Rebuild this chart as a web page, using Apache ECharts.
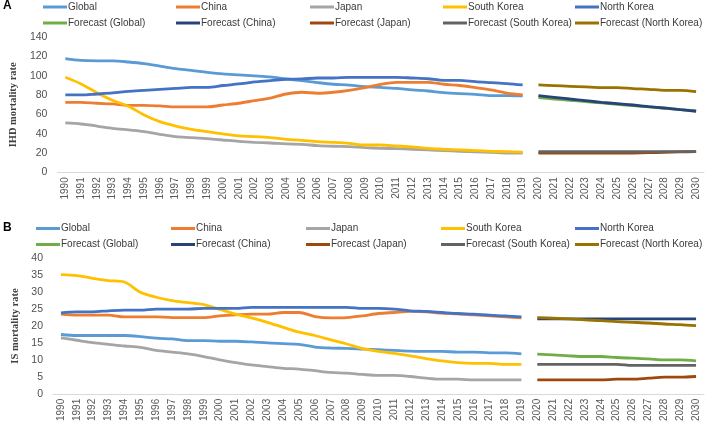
<!DOCTYPE html>
<html><head><meta charset="utf-8">
<script src="https://cdn.jsdelivr.net/npm/echarts@6/dist/echarts.min.js"></script>
<style>html,body{margin:0;padding:0;background:#fff}#c{width:708px;height:424px}</style>
</head><body><div id="c"></div>
<script>
const years = ['1990','1991','1992','1993','1994','1995','1996','1997','1998','1999','2000','2001','2002','2003','2004','2005','2006','2007','2008','2009','2010','2011','2012','2013','2014','2015','2016','2017','2018','2019','2020','2021','2022','2023','2024','2025','2026','2027','2028','2029','2030'];

const histNames = ['Global','China','Japan','South Korea','North Korea'];
const fcNames = ['Forecast (Global)','Forecast (China)','Forecast (Japan)','Forecast (South Korea)','Forecast (North Korea)'];

// Panel A: IHD mortality rate, 1990-2019
const ihdGlobal = [117.9,116,115.5,115.5,114.4,112.7,110,107.5,105.8,103.7,102,101,100,98.9,96.8,95,93,91.3,90.4,88.8,88,87,85.4,84.3,82.6,81.6,80.9,79.5,79.5,79.2];
const ihdChina = [72.6,72.6,71.6,70.9,69.5,69.5,68.8,67.8,67.8,67.8,69.8,71.6,74.3,77,81.2,83,82,83,85,87.8,91.3,93.3,93.3,93.3,91.3,90,87.8,85.4,82,80.2];
const ihdJapan = [51.2,50.1,48,45.6,43.9,42.2,39.4,37,36,34.9,33.5,32.1,31.1,30.4,29.4,29,27.7,27,26.6,25.6,24.9,24.5,23.9,23.2,22.5,21.8,21.1,20.7,20,20];
const ihdSKorea = [98.5,91.6,82.6,74.7,68.4,59.5,52.5,48,44.6,42.2,39.8,37.7,37,36,34.2,33.2,31.8,31.1,30.1,28.3,28.3,27.3,26.3,24.9,23.9,23.2,22.5,21.8,21.4,21];
const ihdNKorea = [80.2,80.2,81.2,82.3,84,85,86,87,88,88,90,91.6,93.7,95,96.5,96.8,97.8,97.8,98.5,98.5,98.5,98.5,97.8,97,95.4,95.4,94,93,92,90.6];
// Panel A forecasts, 2020-2030
const ihdFcGlobal = [77.4,76,74.7,73.3,71.9,70.5,69.1,67.8,66.4,65,63.6];
const ihdFcChina = [79.5,77.8,76,74.3,72.6,71.2,69.8,68.1,66.7,65,63.3];
const ihdFcJapan = [19.8,19.8,19.8,19.8,19.8,19.8,19.9,20.3,20.8,21.2,21.4];
const ihdFcSKorea = [21.5,21.5,21.5,21.5,21.5,21.5,21.5,21.5,21.5,21.5,21.5];
const ihdFcNKorea = [90.6,89.9,89.2,88.5,87.8,87.8,86.8,86.1,85,85,83.7];

// Panel B: IS mortality rate, 1990-2019
const isGlobal = [17.5,17.2,17.2,17.2,17.2,16.9,16.4,16.2,15.7,15.7,15.5,15.5,15.3,15,14.8,14.6,13.8,13.5,13.4,13.2,13,12.8,12.6,12.5,12.5,12.3,12.3,12.1,12.1,11.8];
const isChina = [23.5,23.2,23.2,23.2,22.7,22.7,22.7,22.5,22.5,22.5,23,23.3,23.5,23.5,24,24,22.8,22.4,22.5,23,23.7,24,24.3,24.2,23.8,23.6,23.3,23,22.7,22.4];
const isJapan = [16.5,15.8,15.1,14.6,14.1,13.7,12.8,12.3,11.8,11,10,9.2,8.5,8,7.5,7.3,6.8,6.3,6.1,5.7,5.4,5.4,5.1,4.6,4.3,4.3,4.1,4.1,4.1,4.1];
const isSKorea = [35.2,34.9,34.1,33.4,33,30,28.5,27.5,26.9,26.3,24.9,23.5,22.4,21.1,19.6,18.2,17.2,15.9,14.7,13.3,12.5,11.9,11.2,10.4,9.7,9.2,9,9,8.7,8.7];
const isNKorea = [23.9,24.2,24.2,24.5,24.7,24.7,25,25,25,25.2,25.2,25.2,25.5,25.5,25.5,25.5,25.5,25.5,25.5,25.2,25.2,25,24.5,24.3,24,23.7,23.5,23.2,23,22.7];
// Panel B forecasts, 2020-2030
const isFcGlobal = [11.7,11.5,11.2,11,11,10.7,10.5,10.3,10,10,9.7];
const isFcChina = [22.1,22.1,22.1,22.1,22.1,22.1,22.1,22.1,22.1,22.1,22.1];
const isFcJapan = [4.1,4.1,4.1,4.1,4.1,4.3,4.3,4.6,4.9,4.9,5.1];
const isFcSKorea = [8.7,8.7,8.7,8.7,8.7,8.7,8.4,8.4,8.4,8.4,8.4];
const isFcNKorea = [22.5,22.3,22.1,21.8,21.6,21.3,21.1,20.9,20.6,20.4,20.1];

const histColors = ['#5B9BD5','#ED7D31','#A5A5A5','#FFC000','#4472C4'];
const fcColors = ['#70AD47','#264478','#9E480E','#636363','#997300'];

const nHist = 30, nFc = 11;
const padHist = a => a.concat(new Array(nFc).fill(null));
const padFc = a => new Array(nHist).fill(null).concat(a);

const histA = [ihdGlobal, ihdChina, ihdJapan, ihdSKorea, ihdNKorea];
const fcA = [ihdFcGlobal, ihdFcChina, ihdFcJapan, ihdFcSKorea, ihdFcNKorea];
const histB = [isGlobal, isChina, isJapan, isSKorea, isNKorea];
const fcB = [isFcGlobal, isFcChina, isFcJapan, isFcSKorea, isFcNKorea];

const series = [];
function addSeries(hist, fc, idx) {
  hist.forEach((d, i) => series.push({
    type: 'line', name: histNames[i], xAxisIndex: idx, yAxisIndex: idx,
    data: padHist(d), showSymbol: false, symbol: 'none', smooth: 0.3,
    lineStyle: {width: 2.8, color: histColors[i]}, itemStyle: {color: histColors[i]}
  }));
  fc.forEach((d, i) => series.push({
    type: 'line', name: fcNames[i], xAxisIndex: idx, yAxisIndex: idx,
    data: padFc(d), showSymbol: false, symbol: 'none', smooth: 0.3,
    lineStyle: {width: 2.8, color: fcColors[i]}, itemStyle: {color: fcColors[i]}
  }));
}
addSeries(histA, fcA, 0);
addSeries(histB, fcB, 1);

const legends = [];
const colA = [43, 176, 310, 443, 575];
const colB = [36, 171, 306, 441, 575];
function addLegends(cols, top) {
  cols.forEach((x, i) => legends.push({
    orient: 'vertical', left: x, top: top, padding: 0, itemGap: 3,
    itemWidth: 24, itemHeight: 3, icon: 'rect', selectedMode: false,
    data: [histNames[i], fcNames[i]],
    textStyle: {fontFamily: 'Liberation Sans', fontSize: 10, color: '#3a3a3a', lineHeight: 13, padding: [0,0,0,-4]}
  }));
}
addLegends(colA, 0.5);
addLegends(colB, 222);

const xAxisCommon = {
  type: 'category', data: years, boundaryGap: true,
  axisLine: {lineStyle: {color: '#D9D9D9', width: 1}},
  axisTick: {show: false},
  axisLabel: {rotate: 90, interval: 0, margin: 5, fontFamily: 'Liberation Sans', fontSize: 10, color: '#595959'}
};
const yAxisCommon = {
  type: 'value', min: 0,
  axisLine: {show: false}, axisTick: {show: false}, splitLine: {show: false},
  axisLabel: {margin: 10, fontFamily: 'Liberation Sans', fontSize: 10.5, color: '#505050'},
  nameLocation: 'middle', nameGap: 30,
  nameTextStyle: {fontFamily: 'Liberation Serif', fontWeight: 'bold', fontSize: 10.5, color: '#404040'}
};

const option = {
  animation: false,
  backgroundColor: '#ffffff',
  title: [
    {text: 'A', left: 3, top: 0, padding: 0, textStyle: {fontFamily: 'Liberation Sans', fontWeight: 'bold', fontSize: 12, color: '#000'}},
    {text: 'B', left: 3, top: 222, padding: 0, textStyle: {fontFamily: 'Liberation Sans', fontWeight: 'bold', fontSize: 12, color: '#000'}}
  ],
  legend: legends,
  grid: [
    {left: 53, right: 4, top: 37.3, height: 135},
    {left: 53, right: 4, top: 258.3, height: 136}
  ],
  xAxis: [
    Object.assign({gridIndex: 0}, xAxisCommon),
    Object.assign({gridIndex: 1}, xAxisCommon)
  ],
  yAxis: [
    Object.assign({gridIndex: 0, max: 140, interval: 20, name: 'IHD mortality rate'}, yAxisCommon),
    Object.assign({gridIndex: 1, max: 40, interval: 5, name: 'IS mortality rate'}, yAxisCommon)
  ],
  series: series
};
echarts.init(document.getElementById('c'), null, {renderer: 'canvas'}).setOption(option);
</script></body></html>
